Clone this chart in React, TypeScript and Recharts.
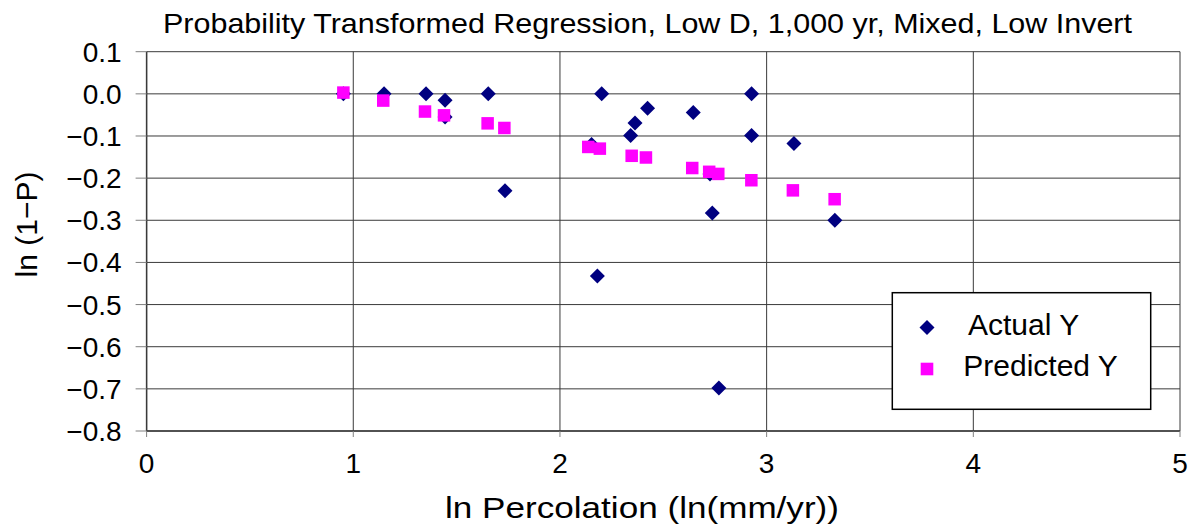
import React from 'react';
import { ScatterChart, Scatter, XAxis, YAxis, CartesianGrid, Customized } from 'recharts';

const actualX = [0.952, 1.149, 1.352, 1.444, 1.444, 1.653, 1.734, 2.153, 2.181, 2.202, 2.342, 2.363, 2.424, 2.645, 2.726, 2.737, 2.769, 2.927, 2.927, 3.132, 3.33];
const actualY = [0, 0, 0, -0.015, -0.055, 0, -0.23, -0.12, -0.432, 0, -0.099, -0.069, -0.034, -0.044, -0.19, -0.283, -0.698, 0, -0.099, -0.118, -0.3];

const predictedX = [0.952, 1.145, 1.347, 1.439, 1.65, 1.731, 2.137, 2.193, 2.347, 2.416, 2.64, 2.722, 2.766, 2.926, 3.127, 3.329];
const predictedY = [0.003, -0.016, -0.042, -0.051, -0.07, -0.081, -0.126, -0.13, -0.147, -0.151, -0.176, -0.185, -0.19, -0.205, -0.229, -0.25];

const xTicks = [0, 1, 2, 3, 4, 5];
const yTicks = [-0.8, -0.7, -0.6, -0.5, -0.4, -0.3, -0.2, -0.1, 0, 0.1];

const titleText = 'Probability Transformed Regression, Low D, 1,000 yr, Mixed, Low Invert';
const xLabelText = 'ln Percolation (ln(mm/yr))';
const yLabelText = 'ln (1\u2212P)';
const seriesNames = ['Actual Y', 'Predicted Y'];

const actualData = actualX.map((x, i) => ({ x, y: actualY[i] }));
const predictedData = predictedX.map((x, i) => ({ x, y: predictedY[i] }));

const FONT = '"Liberation Sans", Arial, Helvetica, sans-serif';
const NAVY = '#000080';
const MAGENTA = '#FF00FF';

const Diamond = (props: any) => {
  const { cx, cy } = props;
  const r = 7.5;
  return <polygon points={`${cx},${cy - r} ${cx + r},${cy} ${cx},${cy + r} ${cx - r},${cy}`} fill={NAVY} />;
};

const Square = (props: any) => {
  const { cx, cy } = props;
  const s = 12.5;
  return <rect x={cx - s / 2} y={cy - s / 2} width={s} height={s} fill={MAGENTA} />;
};

const fmtY = (v: number) => {
  const s = Math.abs(v).toFixed(1);
  return v < -1e-9 ? '\u2212' + s : s;
};

const Decorations = () => (
  <g fontFamily={FONT} fill="#000">
    <text x={639.5} y={25} fontSize={28} textAnchor="middle" textLength={969} lengthAdjust="spacingAndGlyphs">{titleText}</text>
    <text x={634} y={510} fontSize={30} textAnchor="middle" textLength={394} lengthAdjust="spacingAndGlyphs">{xLabelText}</text>
    <text x={29} y={216.5} fontSize={30} textAnchor="middle" transform="rotate(-90 29 216.5)">{yLabelText}</text>
    <g transform="translate(884.3,284.7)">
      <rect x={0} y={0} width={258.4} height={116.6} fill="#fff" stroke="#000" strokeWidth={1.5} />
      <polygon points="34.7,27.3 42.2,34.8 34.7,42.3 27.2,34.8" fill={NAVY} />
      <text x={75.7} y={42.3} fontSize={30}>{seriesNames[0]}</text>
      <rect x={28.4} y={70} width={12.6} height={12.6} fill={MAGENTA} />
      <text x={71} y={83.3} fontSize={30}>{seriesNames[1]}</text>
    </g>
  </g>
);

export default function App() {
  return (
    <ScatterChart
      width={1190}
      height={516}
      margin={{ top: 43.7, right: 18, bottom: 33, left: 38.6 }}
      style={{ fontFamily: FONT, background: '#fff' }}
    >
      <CartesianGrid stroke="#3a3a3a" strokeWidth={1} />
      <XAxis
        type="number"
        dataKey="x"
        domain={[0, 5]}
        ticks={xTicks}
        interval={0}
        height={60}
        tickSize={6}
        tickMargin={16}
        axisLine={{ stroke: '#3a3a3a', strokeWidth: 1.5 }}
        tickLine={{ stroke: '#808080' }}
        tick={{ fill: '#000', fontSize: 28, fontFamily: FONT }}
        allowDataOverflow
      />
      <YAxis
        type="number"
        dataKey="y"
        domain={[-0.8, 0.1]}
        ticks={yTicks}
        interval={0}
        width={100}
        tickSize={11}
        tickMargin={14}
        tickFormatter={fmtY}
        axisLine={{ stroke: '#3a3a3a', strokeWidth: 1.5 }}
        tickLine={{ stroke: '#808080' }}
        tick={{ fill: '#000', fontSize: 28, fontFamily: FONT }}
        allowDataOverflow
      />
      <Scatter name={seriesNames[0]} data={actualData} shape={Diamond} isAnimationActive={false} />
      <Scatter name={seriesNames[1]} data={predictedData} shape={Square} isAnimationActive={false} />
      <Customized component={Decorations} />
    </ScatterChart>
  );
}
